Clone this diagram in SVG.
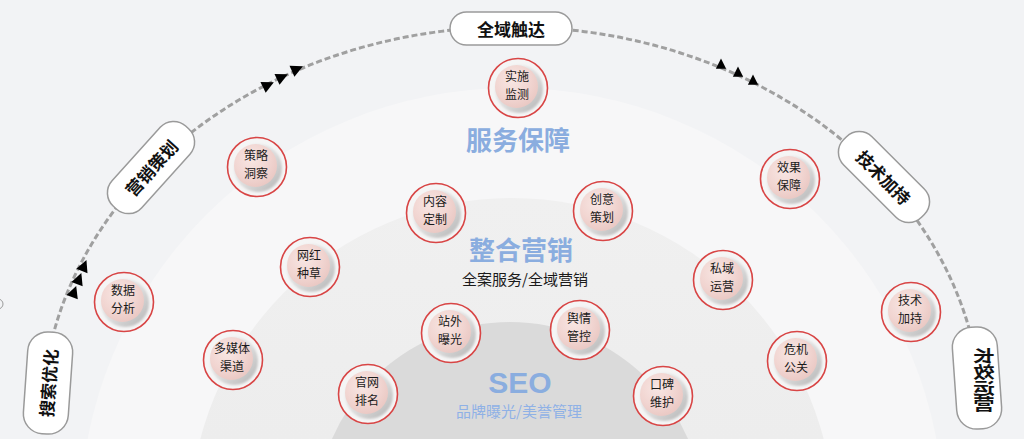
<svg xmlns="http://www.w3.org/2000/svg" xmlns:xlink="http://www.w3.org/1999/xlink" width="1024" height="439" viewBox="0 0 1024 439">
  <style>
    .pill { fill: #ffffff; stroke: #9a9a9a; stroke-width: 1.5; }
    .plabel { font-family: "Noto Sans CJK SC", "Noto Sans", sans-serif; font-size: 17px; font-weight: 700; fill: #111111; text-anchor: middle; dominant-baseline: central; }
    .ntext { font-family: "Noto Sans CJK SC", "Noto Sans", sans-serif; font-size: 12px; fill: #1a1a1a; text-anchor: middle; }
    .title { font-family: "Noto Sans CJK SC", "Noto Sans", sans-serif; font-size: 26px; font-weight: 700; fill: #8aaddf; text-anchor: middle; dominant-baseline: central; }
    .sub { font-family: "Noto Sans CJK SC", "Noto Sans", sans-serif; font-size: 15px; text-anchor: middle; dominant-baseline: central; }
    .arc { fill: none; stroke: #a0a0a0; stroke-width: 3; stroke-dasharray: 6 3; }
    .tri { fill: #000000; }
  </style>
  <defs>
    <radialGradient id="sphere" cx="40%" cy="35%" r="70%">
      <stop offset="0" stop-color="#f8e6e3"/>
      <stop offset="0.6" stop-color="#f1d5d1"/>
      <stop offset="1" stop-color="#e9c7c2"/>
    </radialGradient>
    <linearGradient id="rim" x1="0" y1="0" x2="1" y2="1">
      <stop offset="0" stop-color="#f3f3f3"/>
      <stop offset="0.55" stop-color="#dadada"/>
      <stop offset="1" stop-color="#b3b3b3"/>
    </linearGradient>
    <linearGradient id="midBand" x1="0" y1="0" x2="0" y2="1">
      <stop offset="0" stop-color="#f0f0f0"/>
      <stop offset="1" stop-color="#e8e8e8"/>
    </linearGradient>
    <filter id="soft" x="-20%" y="-20%" width="140%" height="140%">
      <feGaussianBlur stdDeviation="1.2"/>
    </filter>
    <g id="bubble">
      <circle r="29.5" fill="#f5f5f5" stroke="#d84545" stroke-width="1.6"/>
      <circle cx="1" cy="1" r="24" fill="url(#rim)" filter="url(#soft)"/>
      <circle cx="-1.5" cy="-1.5" r="21.5" fill="url(#sphere)"/>
    </g>
    <path id="tri" d="M6.5,0 L-5.5,-6 L-5.5,6 Z"/>
  </defs>

  <!-- background -->
  <rect width="1024" height="439" fill="#f2f3f5"/>
  <circle cx="512" cy="520" r="432" fill="#f7f7f8"/>
  <circle cx="512" cy="520" r="322" fill="url(#midBand)"/>
  <circle cx="510" cy="516" r="194" fill="#dadada"/>
  <circle cx="-2" cy="304" r="5" fill="none" stroke="#9a9a9a" stroke-width="1"/>

  <!-- connectors -->
  <g id="connectors">
    <path class="arc" d="M 42.6 400 A 470 393 0 0 1 981.4 400"/>
    <use href="#tri" class="tri" transform="translate(268,85) rotate(-26)"/>
    <use href="#tri" class="tri" transform="translate(282,77) rotate(-25)"/>
    <use href="#tri" class="tri" transform="translate(297,69) rotate(-24)"/>
    <use href="#tri" class="tri" transform="translate(84,266) rotate(-68)"/>
    <use href="#tri" class="tri" transform="translate(79,279) rotate(-69)"/>
    <use href="#tri" class="tri" transform="translate(74,292) rotate(-70)"/>
    <use href="#tri" class="tri" transform="translate(721,64) rotate(-90) scale(0.85)"/>
    <use href="#tri" class="tri" transform="translate(738,72) rotate(-90) scale(0.85)"/>
    <use href="#tri" class="tri" transform="translate(753,80) rotate(-90) scale(0.85)"/>
  </g>

  <!-- stage pills -->
  <g id="pill-quanyu">
    <rect class="pill" x="450" y="12" width="122" height="33" rx="16.5"/>
    <text class="plabel" x="511" y="28.5">全域触达</text>
  </g>
  <g id="pill-yingxiao" transform="translate(151,167.5) rotate(-48)">
    <rect class="pill" x="-54" y="-20" width="108" height="40" rx="18"/>
    <text class="plabel" x="0" y="0">营销策划</text>
  </g>
  <g id="pill-jishu" transform="translate(884,177) rotate(45)">
    <rect class="pill" x="-55" y="-20" width="110" height="40" rx="18"/>
    <text class="plabel" x="0" y="0">技术加持</text>
  </g>
  <g id="pill-sousuo" transform="translate(48,383) rotate(-86)">
    <rect class="pill" x="-51" y="-22.5" width="102" height="45" rx="20"/>
    <text class="plabel" x="0" y="0">搜索优化</text>
  </g>
  <g id="pill-changxiao">
    <rect class="pill" x="-51" y="-22.5" width="102" height="45" rx="20" transform="translate(977,378) rotate(86)"/>
    <g transform="translate(984,380) scale(-1.35,1)">
      <text class="plabel" style="font-size:16px" writing-mode="vertical-rl" x="0" y="0">长效运营</text>
    </g>
  </g>

  <!-- section titles -->
  <g id="label-fuwu">
    <text class="title" x="518" y="138">服务保障</text>
  </g>
  <g id="label-zhenghe">
    <text class="title" x="521" y="248">整合营销</text>
    <text class="sub" x="525" y="278" fill="#1a1a1a">全案服务/全域营销</text>
  </g>
  <g id="label-seo">
    <text x="520" y="382" text-anchor="middle" dominant-baseline="central" font-family="Liberation Sans, Arial, sans-serif" font-size="30" font-weight="700" fill="#8aaddf">SEO</text>
    <text class="sub" x="519" y="410" fill="#8fb1e6">品牌曝光/美誉管理</text>
  </g>

  <!-- nodes -->
  <g id="node-shishi" transform="translate(518,88)"><use href="#bubble"/><text class="ntext"><tspan x="-1" y="-7">实施</tspan><tspan x="-1" y="10.5">监测</tspan></text></g>
  <g id="node-celue" transform="translate(257,167)"><use href="#bubble"/><text class="ntext"><tspan x="-1" y="-7">策略</tspan><tspan x="-1" y="10.5">洞察</tspan></text></g>
  <g id="node-wanghong" transform="translate(310,267)"><use href="#bubble"/><text class="ntext"><tspan x="-1" y="-7">网红</tspan><tspan x="-1" y="10.5">种草</tspan></text></g>
  <g id="node-duomeiti" transform="translate(233,360)"><use href="#bubble"/><text class="ntext"><tspan x="-1" y="-7">多媒体</tspan><tspan x="-1" y="10.5">渠道</tspan></text></g>
  <g id="node-shuju" transform="translate(124,302)"><use href="#bubble"/><text class="ntext"><tspan x="-1" y="-7">数据</tspan><tspan x="-1" y="10.5">分析</tspan></text></g>
  <g id="node-neirong" transform="translate(436,213)"><use href="#bubble"/><text class="ntext"><tspan x="-1" y="-7">内容</tspan><tspan x="-1" y="10.5">定制</tspan></text></g>
  <g id="node-chuangyi" transform="translate(603,211)"><use href="#bubble"/><text class="ntext"><tspan x="-1" y="-7">创意</tspan><tspan x="-1" y="10.5">策划</tspan></text></g>
  <g id="node-zhanwai" transform="translate(451,333)"><use href="#bubble"/><text class="ntext"><tspan x="-1" y="-7">站外</tspan><tspan x="-1" y="10.5">曝光</tspan></text></g>
  <g id="node-yuqing" transform="translate(580,330)"><use href="#bubble"/><text class="ntext"><tspan x="-1" y="-7">舆情</tspan><tspan x="-1" y="10.5">管控</tspan></text></g>
  <g id="node-koubei" transform="translate(663,396)"><use href="#bubble"/><text class="ntext"><tspan x="-1" y="-7">口碑</tspan><tspan x="-1" y="10.5">维护</tspan></text></g>
  <g id="node-guanwang" transform="translate(368,394)"><use href="#bubble"/><text class="ntext"><tspan x="-1" y="-7">官网</tspan><tspan x="-1" y="10.5">排名</tspan></text></g>
  <g id="node-xiaoguo" transform="translate(790,179)"><use href="#bubble"/><text class="ntext"><tspan x="-1" y="-7">效果</tspan><tspan x="-1" y="10.5">保障</tspan></text></g>
  <g id="node-siyu" transform="translate(723,280)"><use href="#bubble"/><text class="ntext"><tspan x="-1" y="-7">私域</tspan><tspan x="-1" y="10.5">运营</tspan></text></g>
  <g id="node-weiji" transform="translate(797,361)"><use href="#bubble"/><text class="ntext"><tspan x="-1" y="-7">危机</tspan><tspan x="-1" y="10.5">公关</tspan></text></g>
  <g id="node-jishu" transform="translate(911,312)"><use href="#bubble"/><text class="ntext"><tspan x="-1" y="-7">技术</tspan><tspan x="-1" y="10.5">加持</tspan></text></g>
</svg>
